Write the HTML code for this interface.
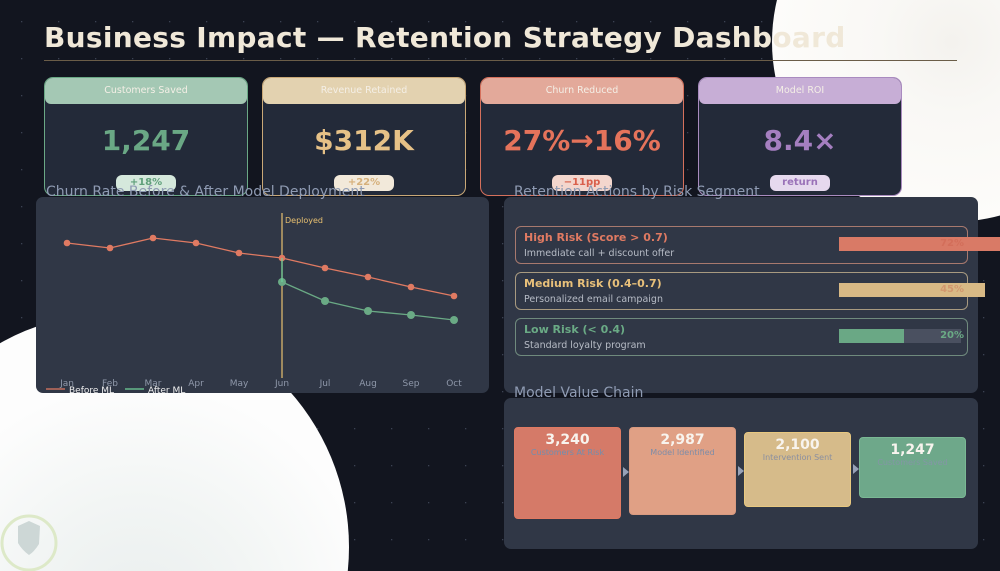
<!DOCTYPE html>
<html style="overflow:hidden"><head><meta charset="utf-8"><style>
*{margin:0;padding:0;box-sizing:border-box}
html,body{width:1000px;height:571px;overflow:hidden}
body{background:#12151f;font-family:"DejaVu Sans","Liberation Sans",sans-serif;position:relative}
.abs{position:absolute}
.card{position:absolute;top:77px;width:204px;height:119px;border-radius:9px;background:#232a39;border:1px solid}
.card .hd{height:26px;border-radius:8px 8px 6px 6px;text-align:center;font-size:9.5px;line-height:26px;color:#f4efe6}
.card .val{position:absolute;top:46px;width:100%;text-align:center;font-size:28px;font-weight:bold}
.card .badge{position:absolute;top:97px;left:50%;transform:translateX(-50%);width:60px;height:16px;border-radius:6px;text-align:center;font-size:10px;font-weight:bold;line-height:16px}
.ptitle{position:absolute;font-size:14px;color:#8f9bb3;z-index:5}
.panel{position:absolute;background:#303746;border-radius:7px}
.row{position:absolute;left:11px;width:453px;height:38px;border:1px solid;border-radius:6px}
.row .t{position:absolute;left:8px;top:4px;font-size:11px;font-weight:bold}
.row .s{position:absolute;left:8px;top:21px;font-size:9.5px;color:#b7bcc6}
</style></head><body>
<svg class="abs" style="left:0;top:0" width="1000" height="571">
<defs>
<radialGradient id="g1" cx="0.5" cy="0.5" r="0.5"><stop offset="0" stop-color="#f4f2ee"/><stop offset="0.4" stop-color="#f9f8f5"/><stop offset="1" stop-color="#fdfcfa"/></radialGradient>
<radialGradient id="g2" cx="0.55" cy="0.65" r="0.5"><stop offset="0" stop-color="#e9eeee"/><stop offset="0.5" stop-color="#f2f5f4"/><stop offset="1" stop-color="#fdfdfd"/></radialGradient>
<pattern id="dots" width="37" height="37" patternUnits="userSpaceOnUse" x="21" y="21"><rect x="0" y="0" width="1.3" height="1.3" fill="#3b4252"/></pattern>
</defs>
<rect width="1000" height="571" fill="url(#dots)"/>
<circle cx="952" cy="42" r="180" fill="url(#g1)"/>
<circle cx="115" cy="547" r="234" fill="url(#g2)"/>
<circle cx="29" cy="543" r="27" fill="none" stroke="#dde9c8" stroke-width="3"/>
<path d="M18 526 L29 521 L40 526 L39 544 Q34 552 29 555 Q22 550 18 543 Z" fill="#cdd7d6"/>
</svg>

<div class="abs" style="left:44px;top:21px;font-size:28px;font-weight:bold;color:#f0e8d8;letter-spacing:0.3px">Business Impact — Retention Strategy Dashboard</div>
<div class="abs" style="left:44px;top:60px;width:913px;height:1px;background:#6b5d48"></div>

<div class="card" style="left:44px;border-color:#6aa885"><div class="hd" style="background:#a4c8b4">Customers Saved</div><div class="val" style="color:#6aa885">1,247</div><div class="badge" style="background:#d5e8dc;color:#5f9f7a">+18%</div></div>
<div class="card" style="left:262px;border-color:#c9a877"><div class="hd" style="background:#e3d2b0">Revenue Retained</div><div class="val" style="color:#e6c187">$312K</div><div class="badge" style="background:#f2e9da;color:#d6b07a">+22%</div></div>
<div class="card" style="left:480px;border-color:#d5705c"><div class="hd" style="background:#e3a99a">Churn Reduced</div><div class="val" style="color:#e5735b">27%→16%</div><div class="badge" style="background:#f3d6cd;color:#d9604c">−11pp</div></div>
<div class="card" style="left:698px;border-color:#a98bbf"><div class="hd" style="background:#c7aed6">Model ROI</div><div class="val" style="color:#a57fc0">8.4×</div><div class="badge" style="background:#e6d9ee;color:#9a72b8">return</div></div>

<div class="panel" style="left:36px;top:197px;width:453px;height:196px"></div>
<div class="ptitle" style="left:46px;top:184px">Churn Rate Before &amp; After Model Deployment</div>
<svg id="chart" class="abs" style="left:0;top:0;z-index:3" width="1000" height="571"></svg>

<div class="panel" style="left:504px;top:197px;width:474px;height:196px"></div>
<div class="ptitle" style="left:514px;top:184px">Retention Actions by Risk Segment</div>
<div id="risk" class="abs" style="left:504px;top:215px;width:496px;height:160px;overflow:hidden;z-index:4"></div>

<div class="panel" style="left:504px;top:398px;width:474px;height:151px"></div>
<div class="ptitle" style="left:514px;top:385px">Model Value Chain</div>
<div id="chain" class="abs" style="left:0;top:0;width:1000px;height:571px;overflow:hidden;z-index:4"></div>

<script>
const months=["Jan","Feb","Mar","Apr","May","Jun","Jul","Aug","Sep","Oct"];
const beforeML=[31.4,30.4,32.4,31.4,29.4,28.4,26.4,24.6,22.6,20.8];
const afterML=[null,null,null,null,null,23.6,19.8,17.8,17.0,16.0];
const deployIndex=5;
const riskLabels=["High Risk  (Score > 0.7)","Medium Risk (0.4–0.7)","Low Risk   (< 0.4)"];
const riskActions=["Immediate call + discount offer","Personalized email campaign","Standard loyalty program"];
const riskPct=[72,45,20];
const chainValues=[3240,2987,2100,1247];
const chainLabels=["Customers At Risk","Model Identified","Intervention Sent","Customers Saved"];

const NS="http://www.w3.org/2000/svg";
const svg=document.getElementById('chart');
const xs=i=>67+i*43.0;
const ys=v=>400-5*v;
function mk(t,a){const e=document.createElementNS(NS,t);for(const k in a)e.setAttribute(k,a[k]);svg.appendChild(e);return e;}
const dl=mk('line',{x1:xs(deployIndex),x2:xs(deployIndex),y1:213,y2:378,stroke:'#e8c070','stroke-width':1.2});


const dt=mk('text',{x:xs(deployIndex)+3,y:223,'font-size':8,fill:'#e8c070'});dt.textContent='Deployed';


function series(vals,col,r,name){
  let pts=[];vals.forEach((v,i)=>{if(v!=null)pts.push([xs(i),ys(v)]);});
  const p=mk('polyline',{points:pts.map(p=>p.join(',')).join(' '),fill:'none',stroke:col,'stroke-width':1.3});
  
  
  pts.forEach(q=>{const c=mk('circle',{cx:q[0],cy:q[1],r:r,fill:col});
    
    });
}
series(beforeML,'#e07a62',3.3,'before-ml');
series(afterML,'#6aaa85',4,'after-ml');
mk('line',{x1:xs(deployIndex),x2:xs(deployIndex),y1:ys(beforeML[deployIndex]),y2:ys(afterML[deployIndex]),stroke:'#6fd39a','stroke-width':1.2});
months.forEach((m,i)=>{const t=mk('text',{x:xs(i),y:386,'font-size':9,fill:'#8f98aa','text-anchor':'middle'});t.textContent=m;
  
  });
mk('line',{x1:46,x2:65,y1:389,y2:389,stroke:'#e07a62','stroke-width':1.2});
let l1=mk('text',{x:69,y:393,'font-size':9,fill:'#f0f0f0'});l1.textContent='Before ML';


mk('line',{x1:125,x2:144,y1:389,y2:389,stroke:'#6fd39a','stroke-width':1.2});
let l2=mk('text',{x:148,y:393,'font-size':9,fill:'#f0f0f0'});l2.textContent='After ML';



const riskCols=['#e07a62','#e8c07a','#6aaa85'];
const riskBorder=['#a8796e','#a89a80','#6f8a7d'];
const barCols=['#d97a66','#d8b985','#6aa885'];
const risk=document.getElementById('risk');
riskPct.forEach((p,i)=>{
  const r=document.createElement('div');r.className='row';
  
  
  r.style.top=(11+i*46)+'px';r.style.borderColor=riskBorder[i];
  r.innerHTML='<div class="t" style="color:'+riskCols[i]+'">'+riskLabels[i]+'</div><div class="s">'+riskActions[i]+'</div>';
  risk.appendChild(r);
  const tr=document.createElement('div');tr.className='abs';
  
  
  tr.style.cssText='left:335px;top:'+(22+i*46)+'px;width:122px;height:14px;background:#4a5060';
  risk.appendChild(tr);
  const b=document.createElement('div');b.className='abs';
  
  
  b.style.cssText='left:335px;top:'+(22+i*46)+'px;width:'+(p*3.25)+'px;height:14px;background:'+barCols[i];
  risk.appendChild(b);
  const lt=document.createElement('div');lt.className='abs';
  
  
  lt.style.cssText='left:335px;top:'+(23+i*46)+'px;width:125px;text-align:right;font-size:10px;font-weight:bold;color:'+(i==2?'#6aaa85':'rgba(200,90,70,0.35)');
  lt.textContent=p+'%';risk.appendChild(lt);
});

const chain=document.getElementById('chain');
const chainCols=['#d57a68','#e0a085','#d6bb8a','#6ea88a'];
const chainBd=['#e07a62','#d89a80','#e8c880','#7ab894'];
const chainTx=['#6f8fb0','#7d8da8','#8a8fa0','#8496a6'];
chainValues.forEach((v,i)=>{
  const h=42+v*0.0155, x=514+i*115, top=473-i*1.8-h/2;
  const b=document.createElement('div');b.className='abs';
  
  
  b.style.cssText='left:'+x+'px;top:'+top+'px;width:107px;height:'+h+'px;background:'+chainCols[i]+';border:1px solid '+chainBd[i]+';border-radius:4px;text-align:center';
  b.innerHTML='<div style="font-size:14px;font-weight:bold;color:#f8f4ee;margin-top:4px">'+v.toLocaleString('en-US')+'</div><div style="font-size:8px;color:'+chainTx[i]+'">'+chainLabels[i]+'</div>';
  chain.appendChild(b);
  if(i<3){const a=document.createElement('div');a.className='abs';
    
    
    a.style.cssText='left:'+(x+109)+'px;top:'+(467-i*1.5)+'px;width:0;height:0;border-top:5px solid transparent;border-bottom:5px solid transparent;border-left:6px solid #98a2b8';
    chain.appendChild(a);}
});
</script>
</body></html>
